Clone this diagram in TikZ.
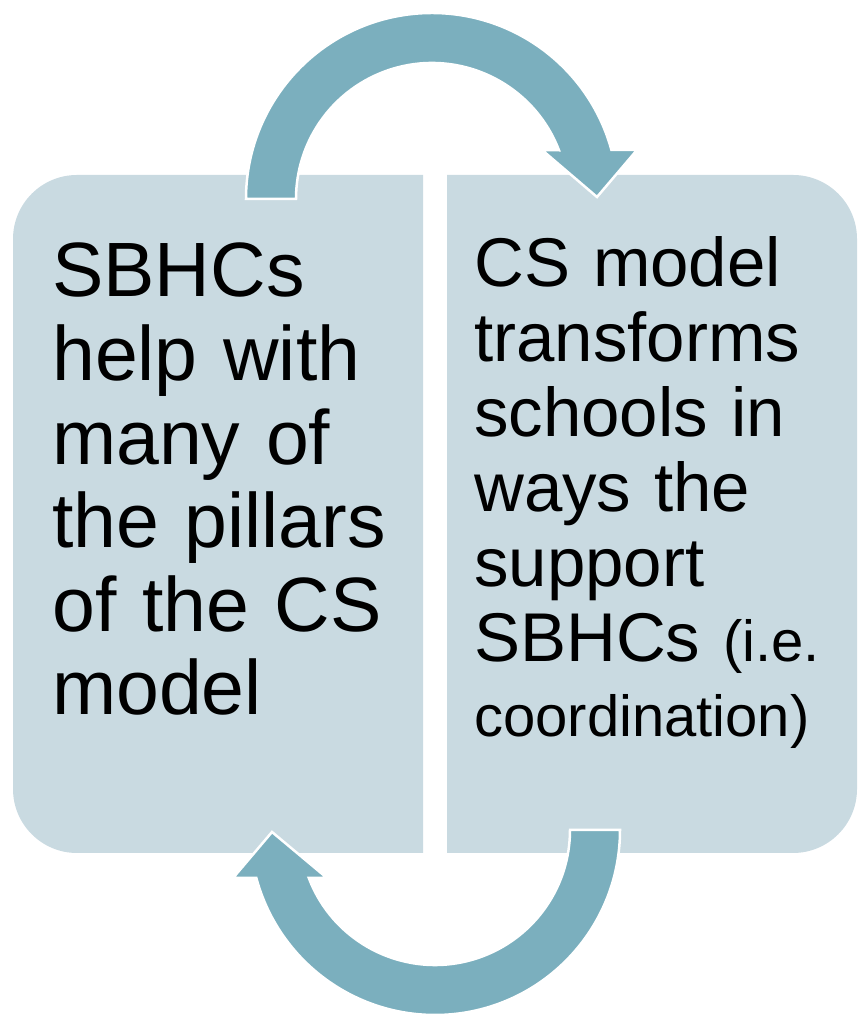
\documentclass[tikz,border=0pt]{standalone}
\usepackage{fontspec}
\setmainfont{Liberation Sans}
\usetikzlibrary{calc}
\definecolor{boxblue}{RGB}{201,218,225}
\definecolor{arrowblue}{RGB}{123,175,190}
\tikzset{
	panel/.style = {fill=boxblue, draw=none},
	bigarrow/.style = {fill=arrowblue, draw=white, line width=2.5pt, line join=miter},
	paneltext/.style = {anchor=base west, inner sep=0pt, text width=390pt, align=left}
}
\newcommand{\fsleft}{\fontsize{77pt}{83.6pt}\selectfont}
\newcommand{\fsright}{\fontsize{69pt}{75pt}\selectfont}
\newcommand{\fssmall}{\fontsize{58pt}{69pt}\selectfont}

\begin{document}
\begin{tikzpicture}[x=1pt, y=1pt]
	\useasboundingbox (0,0) rectangle (861,1016);
	\fill[panel] (423,163) -- (77,163) arc (270:180:64) -- (13,777) arc (180:90:64) -- (423,841) -- cycle;
	\fill[panel] (447,163) -- (793,163) arc (-90:0:64) -- (857,777) arc (0:90:64) -- (447,841) -- cycle;
	\coordinate (topc) at (432,817);
	\coordinate (botc) at (435,186);
	\filldraw[bigarrow] ($(topc)+(180:186)$) arc (180:15.3:186) -- (637,866) -- (597,819) -- (542,866) -- ($(topc)+(21:136)$) arc (21:180:136) -- cycle;
	\filldraw[bigarrow] ($(botc)+(0:185)$) arc (0:-165:185) -- (233,138) -- (272,184) -- (327,138) -- ($(botc)+(-159.2:135)$) arc (-159.2:0:135) -- cycle;
%
	\node[paneltext, font=\fsleft] (lefttext) at (52,719) {SBHCs\\ help with\\ many of\\ the pillars\\ of the CS\\ model};
	\node[paneltext, font=\fsright] (righttext) at (474,729) {CS model\\ transforms\\ schools in\\ ways the\\ support\\ SBHCs {\fssmall (i.e.}\\ \fssmall coordination)};
\end{tikzpicture}
\end{document}
